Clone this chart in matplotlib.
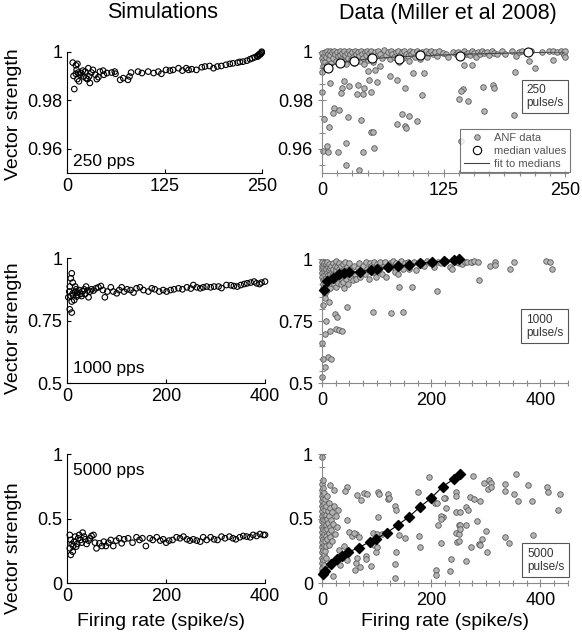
import numpy as np
import matplotlib
matplotlib.use("Agg")
import matplotlib.pyplot as plt
from matplotlib.ticker import MultipleLocator
from matplotlib.lines import Line2D

plt.rcParams['font.family'] = ['Liberation Sans', 'DejaVu Sans']

# ---------------- simulations ----------------
sim250_x = [7, 13, 11, 8, 9, 12, 14, 11, 16, 13, 15, 18, 21, 23, 20, 24, 27, 28, 26, 29,
            31, 33, 38, 40, 36, 42, 46, 47, 51, 57, 61, 62, 68, 72, 78, 80, 82, 91, 96,
            104, 111, 117, 121, 127, 132, 136, 143, 148, 153, 156, 160, 166, 173, 177,
            183, 188, 193, 198, 204, 209, 213, 219, 222, 226, 231, 235, 238, 241, 244,
            246, 247, 249, 250, 250, 248, 245]
sim250_y = [0.9955, 0.9950, 0.9944, 0.9900, 0.9846, 0.9925, 0.9914, 0.9909, 0.9905,
            0.9887, 0.9878, 0.9912, 0.9898, 0.9918, 0.9922, 0.9891, 0.9932, 0.9898,
            0.9887, 0.9871, 0.9914, 0.9925, 0.9887, 0.9895, 0.9905, 0.9918, 0.9922,
            0.9905, 0.9912, 0.9914, 0.9918, 0.9909, 0.9884, 0.9891, 0.9884, 0.9898,
            0.9914, 0.9918, 0.9912, 0.9918, 0.9912, 0.9918, 0.9909, 0.9925, 0.9922,
            0.9925, 0.9932, 0.9922, 0.9932, 0.9925, 0.9928, 0.9925, 0.9936, 0.9939,
            0.9941, 0.9932, 0.9939, 0.9941, 0.9946, 0.9950, 0.9952, 0.9955, 0.9958,
            0.9959, 0.9963, 0.9969, 0.9973, 0.9977, 0.9982, 0.9986, 0.9990, 0.9993,
            0.9996, 1.0000, 0.9988, 0.9980]

sim1000_x = [9, 7, 11, 5, 4, 7, 5, 9, 14, 12, 16, 18, 20, 24, 27, 31, 34, 38, 41, 43,
             46, 49, 53, 58, 63, 68, 72, 76, 81, 88, 93, 100, 105, 110, 115, 121, 128,
             134, 140, 147, 154, 164, 171, 177, 186, 194, 201, 209, 216, 225, 233, 242,
             250, 255, 262, 269, 275, 282, 290, 297, 306, 312, 322, 331, 337, 344, 351,
             358, 364, 371, 378, 383, 389, 393, 400, 2, 9, 11, 19, 22, 29, 36, 16]
sim1000_y = [0.940, 0.920, 0.903, 0.887, 0.867, 0.849, 0.796, 0.783, 0.833, 0.853,
             0.867, 0.876, 0.863, 0.873, 0.857, 0.868, 0.876, 0.887, 0.871, 0.844,
             0.867, 0.876, 0.871, 0.880, 0.884, 0.889, 0.873, 0.844, 0.867, 0.884,
             0.867, 0.860, 0.873, 0.884, 0.867, 0.876, 0.873, 0.863, 0.880, 0.884,
             0.873, 0.867, 0.880, 0.876, 0.867, 0.873, 0.867, 0.873, 0.876, 0.880,
             0.876, 0.884, 0.879, 0.893, 0.884, 0.880, 0.884, 0.887, 0.884, 0.887,
             0.887, 0.881, 0.893, 0.892, 0.889, 0.887, 0.893, 0.897, 0.900, 0.903,
             0.907, 0.900, 0.897, 0.903, 0.907, 0.844, 0.827, 0.860, 0.847, 0.853,
             0.849, 0.857, 0.887]

sim5000_x = [5, 7, 9, 5, 7, 11, 12, 14, 16, 18, 20, 22, 24, 27, 29, 31, 34, 36, 39, 43,
             46, 49, 53, 56, 59, 65, 70, 74, 78, 83, 88, 93, 99, 105, 110, 115, 123, 132,
             140, 146, 152, 159, 167, 173, 181, 188, 194, 200, 206, 213, 221, 228, 235,
             242, 248, 255, 262, 269, 275, 282, 290, 297, 304, 312, 319, 328, 335, 341,
             349, 356, 363, 370, 376, 383, 390, 397, 400]
sim5000_y = [0.375, 0.336, 0.305, 0.271, 0.220, 0.245, 0.289, 0.323, 0.362, 0.284,
             0.305, 0.349, 0.375, 0.336, 0.315, 0.393, 0.362, 0.341, 0.305, 0.331,
             0.349, 0.367, 0.375, 0.315, 0.271, 0.310, 0.289, 0.323, 0.289, 0.315,
             0.336, 0.289, 0.331, 0.349, 0.310, 0.341, 0.349, 0.315, 0.357, 0.336,
             0.349, 0.289, 0.349, 0.336, 0.357, 0.331, 0.341, 0.315, 0.331, 0.336,
             0.357, 0.349, 0.362, 0.341, 0.331, 0.341, 0.331, 0.323, 0.357, 0.336,
             0.357, 0.341, 0.336, 0.362, 0.349, 0.362, 0.349, 0.341, 0.357, 0.367,
             0.362, 0.357, 0.375, 0.367, 0.382, 0.375, 0.375]

# ---------------- data (Miller et al 2008) ----------------
anf250_x = [0, 0, 1, 1, 0, 2, 3, 3, 4, 5, 5, 6, 7, 8, 8, 9, 10, 11, 12, 13, 14, 15, 16,
            17, 18, 19, 20, 21, 22, 23, 24, 25, 26, 27, 28, 29, 30, 31, 32, 33, 34, 35,
            36, 37, 38, 39, 40, 41, 42, 43, 44, 45, 46, 47, 48, 49, 50, 51, 52, 54, 56,
            58, 60, 62, 64, 66, 68, 70, 71, 72, 74, 76, 78, 79, 80, 82, 83, 84, 86, 88,
            89, 90, 92, 94, 96, 98, 100, 101, 103, 105, 107, 108, 110, 112, 114, 116,
            118, 120, 124, 128, 130, 135, 138, 140, 144, 146, 148, 150, 152, 154, 156,
            158, 160, 162, 165, 167, 170, 172, 175, 177, 180, 185, 188, 195, 200, 203,
            206, 212, 215, 226, 233, 238, 242, 246, 248, 249, 250, 250,
            # lower scatter
            8, 0, 23, 21, 20, 28, 37, 36, 43, 42, 48, 50, 57, 47, 54, 60, 70, 77, 85,
            94, 105, 103, 12, 17, 11, 2, 7, 27, 40, 50, 52, 77, 82, 85, 86, 89, 98, 25,
            5, 1, 6, 16, 42, 53, 25, 38,
            146, 154, 198, 213, 219, 238, 145, 143, 141, 150, 166, 176, 177, 167, 197, 143]
anf250_y = [0.9995, 0.9975, 0.9962, 0.9940, 0.9915, 0.9988, 0.9999, 0.9958, 0.9978,
            1.0003, 0.9945, 0.9992, 0.9968, 1.0004, 0.9985, 0.9955, 0.9997, 0.9976,
            1.0001, 0.9990, 0.9962, 0.9998, 0.9982, 0.9952, 1.0003, 0.9988, 0.9970,
            0.9995, 0.9960, 1.0002, 0.9985, 0.9948, 0.9996, 0.9975, 1.0004, 0.9990,
            0.9965, 0.9999, 0.9980, 0.9955, 1.0003, 0.9992, 0.9970, 0.9998, 0.9984,
            0.9960, 1.0001, 0.9990, 0.9975, 0.9950, 0.9997, 0.9985, 1.0002, 0.9965,
            0.9993, 0.9978, 1.0004, 0.9988, 0.9958, 0.9998, 0.9983, 1.0002, 0.9992,
            0.9975, 1.0006, 0.9985, 0.9998, 0.9968, 1.0001, 0.9990, 0.9980, 0.9997,
            1.0003, 0.9958, 0.9988, 0.9999, 0.9972, 1.0002, 0.9992, 0.9982, 0.9962,
            1.0001, 0.9990, 0.9998, 0.9980, 1.0003, 0.9993, 0.9970, 1.0000, 0.9988,
            1.0004, 0.9978, 0.9996, 1.0002, 0.9990, 0.9998, 0.9983, 1.0003, 0.9995,
            0.9990, 0.9978, 1.0000, 0.9992, 0.9998, 0.9985, 1.0002, 0.9992, 0.9996,
            0.9988, 1.0001, 0.9993, 0.9980, 0.9999, 0.9990, 1.0002, 0.9994, 0.9998,
            0.9985, 1.0003, 0.9995, 0.9990, 1.0001, 0.9992, 1.0004, 0.9982, 0.9998,
            1.0001, 0.9993, 1.0002, 0.9998, 1.0003, 1.0001, 0.9999, 1.0004, 0.9996,
            0.9985, 1.0002, 0.9980,
            0.9871, 0.9833, 0.9878, 0.9850, 0.9830, 0.9860, 0.9864, 0.9827, 0.9850,
            0.9827, 0.9885, 0.9834, 0.9875, 0.9921, 0.9925, 0.9943, 0.9901, 0.9885,
            0.9850, 0.9914, 0.9914, 0.9823, 0.9766, 0.9760, 0.9749, 0.9721, 0.9690,
            0.9731, 0.9717, 0.9667, 0.9667, 0.9704, 0.9742, 0.9695, 0.9685, 0.9735,
            0.9714, 0.9622, 0.9612, 0.9592, 0.9585, 0.9585, 0.9585, 0.9603, 0.9535,
            0.9514,
            0.9946, 0.9946, 0.9918, 0.9962, 0.9932, 0.9966, 0.9845, 0.9840, 0.9803,
            0.9796, 0.9853, 0.9861, 0.9851, 0.9755, 0.9739, 0.9630]

med250_x = [6, 18, 33, 51, 79, 101, 142, 212]
med250_y = [0.9932, 0.9955, 0.9963, 0.9973, 0.9969, 0.9987, 0.9983, 0.9997]
fit250_x = [0, 10, 20, 30, 50, 75, 100, 150, 200, 250]
fit250_y = [0.9930, 0.9945, 0.9955, 0.9962, 0.9971, 0.9978, 0.9983, 0.9990, 0.9995, 0.9999]

anf1000_x = [0, 0, 0, 0, 0, 1, 1, 2, 2, 3, 3, 4, 4, 5, 5, 6, 6, 7, 7, 8, 8, 9, 9, 10, 10,
             11, 11, 12, 12, 13, 13, 14, 15, 15, 16, 17, 17, 18, 19, 20, 20, 21, 22, 23,
             24, 25, 25, 26, 27, 28, 29, 30, 31, 32, 33, 34, 35, 36, 37, 38, 39, 40, 41,
             42, 43, 44, 45, 47, 48, 50, 52, 54, 56, 58, 60, 63, 66, 68, 70, 73, 76, 78,
             80, 83, 86, 88, 90, 93, 95, 98, 100, 104, 107, 110, 113, 116, 118, 121, 124,
             127, 130, 133, 136, 139, 142, 145, 148, 152, 157, 160, 163, 168, 172, 178,
             182, 186, 192, 198, 205, 212, 218, 228, 235, 244, 250, 256, 262,
             # sparse points
             5, 6, 12, 2, 45, 23, 28, 8, 14, 26, 31, 36, 5, 0, 11, 17, 2, 6, 0,
             94, 127, 149, 141, 165, 211,
             238, 275, 287, 265, 272, 279, 285, 307, 316, 316, 344, 351, 411, 418, 421]
anf1000_y = [0.990, 0.975, 0.960, 0.945, 0.930, 0.915, 0.900, 0.885, 0.970, 0.955,
             0.940, 0.985, 0.920, 0.965, 0.905, 0.950, 0.935, 0.980, 0.890, 0.960,
             0.925, 0.945, 0.875, 0.990, 0.910, 0.970, 0.935, 0.955, 0.895, 0.980,
             0.920, 0.940, 0.965, 0.885, 0.930, 0.975, 0.905, 0.950, 0.915, 0.985,
             0.940, 0.960, 0.900, 0.975, 0.930, 0.955, 0.890, 0.995, 0.920, 0.970,
             0.945, 0.905, 0.985, 0.960, 0.925, 0.975, 0.900, 0.950, 0.935, 0.980,
             0.910, 0.960, 0.885, 0.990, 0.940, 0.920, 0.970, 0.900, 0.955, 0.985,
             0.930, 0.960, 0.915, 0.975, 0.940, 0.920, 0.965, 0.985, 0.930, 0.955,
             0.975, 0.940, 0.990, 0.960, 0.920, 0.985, 0.975, 0.950, 0.990, 0.930,
             0.980, 0.965, 0.990, 0.940, 0.975, 0.990, 0.930, 0.960, 0.985, 0.970,
             0.995, 0.950, 0.985, 0.940, 0.975, 0.995, 0.960, 0.985, 0.990, 0.960,
             0.980, 0.990, 0.955, 0.985, 0.990, 0.975, 0.995, 0.985, 0.970, 0.990,
             0.985, 0.995, 0.970, 0.990, 0.985, 0.980, 0.990,
             0.863, 0.843, 0.827, 0.816, 0.806, 0.779, 0.767, 0.752, 0.712, 0.718,
             0.716, 0.711, 0.699, 0.661, 0.607, 0.598, 0.600, 0.565, 0.527,
             0.786, 0.782, 0.786, 0.887, 0.890, 0.872,
             0.961, 0.990, 0.917, 0.988, 0.990, 0.992, 0.991, 0.973, 0.988, 0.977,
             0.961, 0.988, 0.993, 0.990, 0.961]

med1000_x = [4, 9, 20, 31, 40, 50, 70, 90, 101, 120, 140, 160, 180, 201, 223, 241, 251]
med1000_y = [0.876, 0.914, 0.926, 0.941, 0.946, 0.948, 0.950, 0.957, 0.962, 0.968,
             0.973, 0.977, 0.984, 0.988, 0.993, 0.997, 1.000]

anf5000_x = [0, 0, 0, 0, 0, 0, 0, 0, 0, 0, 0, 0, 0, 0, 0, 0, 0, 0, 2, 2, 2, 2, 2, 2,
             2, 2, 3, 3, 3, 3, 3, 3, 4, 4, 5, 5, 5, 5, 6, 6, 7, 7, 7, 8, 8, 8, 9, 9, 10,
             10, 11, 11, 12, 12, 13, 13, 14, 15, 15, 16, 17, 18, 19, 20, 22, 24, 26, 28,
             30,
             # spread
             0, 1, 15, 22, 45, 43, 64, 77, 82, 72, 102, 104, 120, 120, 122, 134, 136,
             175, 196, 207, 210, 225, 221, 212, 209, 209, 178, 180, 133, 133, 135, 152,
             141, 103, 93, 101, 110, 46, 50, 55, 62, 68, 58, 40, 32, 34, 28, 33, 46, 62,
             64, 80, 81, 89, 96, 98, 100, 70, 60, 20,
             276, 246, 246, 224, 271, 278, 290, 296, 306, 310, 304, 309, 336, 355, 335,
             352, 359, 377, 384, 412, 414, 435, 432, 228, 218, 218, 246, 253, 263, 267,
             284, 250, 253, 263, 245, 250, 253, 218, 247, 251, 301, 293, 288, 290, 272,
             302, 335, 342, 386, 237, 264, 234]
anf5000_y = [0.77, 0.72, 0.68, 0.64, 0.60, 0.56, 0.52, 0.48, 0.44, 0.40, 0.36, 0.32,
             0.28, 0.24, 0.20, 0.16, 0.12, 0.09, 0.74, 0.66, 0.58, 0.50, 0.42, 0.34,
             0.26, 0.18, 0.62, 0.54, 0.46, 0.38, 0.30, 0.22, 0.70, 0.14, 0.57, 0.49,
             0.41, 0.33, 0.65, 0.25, 0.53, 0.45, 0.37, 0.60, 0.29, 0.20, 0.50, 0.42,
             0.68, 0.34, 0.56, 0.47, 0.39, 0.62, 0.52, 0.30, 0.44, 0.58, 0.36, 0.49,
             0.41, 0.55, 0.33, 0.46, 0.60, 0.38, 0.52, 0.44, 0.57,
             0.977, 0.803, 0.760, 0.726, 0.744, 0.718, 0.687, 0.700, 0.692, 0.648,
             0.708, 0.690, 0.695, 0.650, 0.660, 0.600, 0.570, 0.705, 0.822, 0.620,
             0.620, 0.660, 0.512, 0.450, 0.106, 0.062, 0.364, 0.279, 0.040, 0.152,
             0.243, 0.351, 0.376, 0.512, 0.390, 0.385, 0.380, 0.494, 0.400, 0.370,
             0.380, 0.360, 0.390, 0.290, 0.260, 0.220, 0.170, 0.140, 0.180, 0.160,
             0.200, 0.210, 0.190, 0.132, 0.300, 0.240, 0.280, 0.130, 0.100, 0.060,
             0.830, 0.710, 0.680, 0.660, 0.670, 0.650, 0.640, 0.780, 0.800, 0.780,
             0.730, 0.750, 0.770, 0.850, 0.713, 0.690, 0.640, 0.760, 0.636, 0.745,
             0.710, 0.690, 0.570, 0.584, 0.520, 0.500, 0.555, 0.550, 0.590, 0.565,
             0.485, 0.455, 0.455, 0.450, 0.390, 0.385, 0.420, 0.310, 0.318, 0.330,
             0.408, 0.346, 0.305, 0.300, 0.280, 0.243, 0.357, 0.313, 0.377, 0.188,
             0.175, 0.098]

med5000_x = [1, 6, 16, 28, 37, 48, 67, 87, 99, 119, 139, 159, 180, 200, 221, 242, 252]
med5000_y = [0.070, 0.096, 0.150, 0.186, 0.214, 0.240, 0.277, 0.320, 0.344, 0.393,
             0.452, 0.514, 0.594, 0.661, 0.750, 0.810, 0.847]

GRAY_FACE = '#b4b4b4'
GRAY_EDGE = '#5a5a5a'
AX_GRAY = '#8a8a8a'
W, H = 582, 634

fig = plt.figure(figsize=(W / 100, H / 100), dpi=100)


def axbox(l, r, t, b):
    return fig.add_axes([l / W, 1 - b / H, (r - l) / W, (b - t) / H])


def style_sim(ax, xmax, ylim, xt, yt, ylabels):
    ax.set_xlim(0, xmax)
    ax.set_ylim(*ylim)
    ax.spines['top'].set_visible(False)
    ax.spines['right'].set_visible(False)
    ax.set_xticks(xt)
    ax.set_yticks(yt)
    ax.set_yticklabels(ylabels)
    ax.tick_params(direction='in', length=3, labelsize=13, width=0.8)
    ax.patch.set_alpha(0)


def style_data(ax, xmax, ylim, xt, xminor, yt, ylabels, yminor):
    ax.set_xlim(0, xmax)
    ax.set_ylim(*ylim)
    ax.spines['top'].set_visible(False)
    ax.spines['right'].set_visible(False)
    for s in ('left', 'bottom'):
        ax.spines[s].set_color(AX_GRAY)
        ax.spines[s].set_linewidth(0.8)
    ax.set_xticks(xt)
    ax.set_yticks(yt)
    ax.set_yticklabels(ylabels)
    ax.xaxis.set_minor_locator(MultipleLocator(xminor))
    ax.yaxis.set_minor_locator(MultipleLocator(yminor))
    ax.tick_params(which='both', direction='inout', color=AX_GRAY, labelsize=13, width=0.8)
    ax.tick_params(which='major', length=6)
    ax.tick_params(which='minor', length=4)
    ax.patch.set_alpha(0)


def sim_scatter(ax, x, y):
    ax.scatter(x, y, s=16, facecolors='none', edgecolors='black', linewidths=0.8,
               clip_on=False, zorder=3)


def anf_scatter(ax, x, y):
    ax.scatter(x, y, s=16, facecolor=GRAY_FACE, edgecolor=GRAY_EDGE, linewidths=0.6,
               clip_on=False, zorder=2)


# ---- top row ----
ax1 = axbox(67.3, 261.7, 51.7, 173)
sim_scatter(ax1, sim250_x, sim250_y)
style_sim(ax1, 250, (0.95, 1.0), [0, 125, 250], [0.96, 0.98, 1.0], ['0.96', '0.98', '1'])
ax1.text(0.03, 0.03, '250 pps', transform=ax1.transAxes, fontsize=12.5, va='bottom')

ax2 = axbox(322, 568, 51.7, 173)
anf_scatter(ax2, anf250_x, anf250_y)
ax2.plot(fit250_x, fit250_y, color='#444444', lw=0.8, zorder=3)
ax2.scatter(med250_x, med250_y, s=42, facecolor='white', edgecolor='black', linewidths=0.8,
            zorder=4, clip_on=False)
style_data(ax2, 253, (0.95, 1.0), [0, 125, 250], 125 / 8, [0.96, 0.98, 1.0],
           ['0.96', '0.98', '1'], 0.02 / 3)
ax2.text(0.83, 0.63, '250\npulse/s', transform=ax2.transAxes, fontsize=8.5, va='center',
         ha='left', color='#333333', linespacing=1.1,
         bbox=dict(boxstyle='square,pad=0.35', fc='white', ec='#555555', lw=0.8))
handles = [Line2D([], [], ls='none', marker='o', ms=4, mfc=GRAY_FACE, mec=GRAY_EDGE, mew=0.6),
           Line2D([], [], ls='none', marker='o', ms=6, mfc='white', mec='black', mew=0.8),
           Line2D([], [], color='#444444', lw=0.8)]
leg = ax2.legend(handles, ['ANF data', 'median values', 'fit to medians'], loc='lower right',
                 bbox_to_anchor=(1.01, 0.005), fontsize=8, frameon=True, fancybox=False,
                 borderpad=0.35, labelspacing=0.25, handlelength=2.2, handletextpad=0.5,
                 borderaxespad=0)
leg.get_frame().set_edgecolor('#555555')
leg.get_frame().set_linewidth(0.8)
for t in leg.get_texts():
    t.set_color('#555555')

# ---- middle row ----
ax3 = axbox(67.3, 265, 258.3, 383.3)
sim_scatter(ax3, sim1000_x, sim1000_y)
style_sim(ax3, 400, (0.5, 1.0), [0, 200, 400], [0.5, 0.75, 1.0], ['0.5', '0.75', '1'])
ax3.text(0.03, 0.06, '1000 pps', transform=ax3.transAxes, fontsize=12.5, va='bottom')

ax4 = axbox(322, 567.7, 259.3, 383.3)
anf_scatter(ax4, anf1000_x, anf1000_y)
ax4.plot(med1000_x, med1000_y, color='black', lw=0.8, zorder=3)
ax4.scatter(med1000_x, med1000_y, s=26, marker='D', color='black', zorder=4, clip_on=False)
style_data(ax4, 450, (0.5, 1.0), [0, 200, 400], 25, [0.5, 0.75, 1.0],
           ['0.5', '0.75', '1'], 0.05)
ax4.text(0.83, 0.46, '1000\npulse/s', transform=ax4.transAxes, fontsize=8.5, va='center',
         ha='left', color='#333333', linespacing=1.1,
         bbox=dict(boxstyle='square,pad=0.4', fc='white', ec='#555555', lw=0.8))

# ---- bottom row ----
ax5 = axbox(67.3, 265, 454.3, 583.3)
sim_scatter(ax5, sim5000_x, sim5000_y)
style_sim(ax5, 400, (0, 1.0), [0, 200, 400], [0, 0.5, 1.0], ['0', '0.5', '1'])
ax5.text(0.03, 0.93, '5000 pps', transform=ax5.transAxes, fontsize=12.5, va='top')

ax6 = axbox(322, 567.7, 454.3, 583.3)
anf_scatter(ax6, anf5000_x, anf5000_y)
ax6.plot(med5000_x, med5000_y, color='black', lw=0.8, zorder=3)
ax6.scatter(med5000_x, med5000_y, s=26, marker='D', color='black', zorder=4, clip_on=False)
style_data(ax6, 450, (0, 1.0), [0, 200, 400], 25, [0, 0.5, 1.0], ['0', '0.5', '1'], 0.1)
ax6.text(0.835, 0.18, '5000\npulse/s', transform=ax6.transAxes, fontsize=8.5, va='center',
         ha='left', color='#333333', linespacing=1.1,
         bbox=dict(boxstyle='square,pad=0.4', fc='white', ec='#555555', lw=0.8))

# ---- labels ----
fig.text(163 / W, 1 - 12 / H, 'Simulations', fontsize=15.5, ha='center', va='center')
fig.text(448 / W, 1 - 13 / H, 'Data (Miller et al 2008)', fontsize=15.5, ha='center', va='center')
for yc in (114, 328, 548):
    fig.text(14 / W, 1 - yc / H, 'Vector strength', fontsize=14, rotation=90,
             ha='center', va='center')
fig.text(161 / W, 1 - 622 / H, 'Firing rate (spike/s)', fontsize=14, ha='center', va='center')
fig.text(445 / W, 1 - 622 / H, 'Firing rate (spike/s)', fontsize=14, ha='center', va='center')

fig.savefig('out.png', dpi=100)
